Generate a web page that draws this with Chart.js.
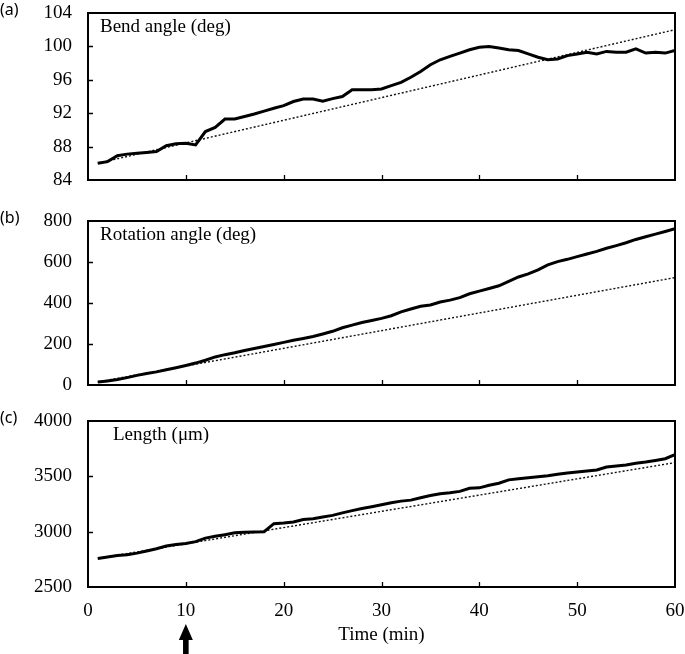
<!DOCTYPE html>
<html>
<head>
<meta charset="utf-8">
<script src="https://cdn.jsdelivr.net/npm/chart.js@4.4.1/dist/chart.umd.min.js"></script>
<style>
  html, body { margin: 0; padding: 0; background: #fff; }
  #wrap { position: relative; width: 685px; height: 654px; }
  canvas { position: absolute; left: 0; }
</style>
</head>
<body>
<div id="wrap">
  <canvas id="bend" width="685" height="200" style="top:0"></canvas>
  <canvas id="rotation" width="685" height="200" style="top:200px"></canvas>
  <canvas id="length" width="685" height="254" style="top:400px"></canvas>
</div>
<script>
// time in minutes, one reading per minute
const minutes = [1,2,3,4,5,6,7,8,9,10,11,12,13,14,15,16,17,18,19,20,
  21,22,23,24,25,26,27,28,29,30,31,32,33,34,35,36,37,38,39,40,
  41,42,43,44,45,46,47,48,49,50,51,52,53,54,55,56,57,58,59,60];

const bendAngle = [86.0,86.2,86.9,87.1,87.2,87.3,87.4,88.1,88.35,88.4,
  88.2,89.8,90.3,91.3,91.3,91.6,91.9,92.25,92.6,92.9,
  93.4,93.7,93.7,93.45,93.75,94.0,94.8,94.8,94.8,94.9,
  95.3,95.7,96.3,97.0,97.8,98.4,98.8,99.2,99.6,99.9,
  100.0,99.8,99.6,99.5,99.1,98.7,98.4,98.5,98.9,99.1,
  99.3,99.1,99.4,99.3,99.3,99.7,99.2,99.3,99.2,99.5];

const rotationAngle = [15,20,27,36,47,56,64,74,84,95,
  107,121,137,148,157,168,178,188,198,208,
  218,227,237,249,262,279,292,305,315,325,
  338,357,371,384,390,405,414,426,445,458,
  471,484,505,527,542,562,586,602,613,626,
  639,652,667,680,694,710,723,736,749,763];

const lengthUm = [2758,2771,2785,2792,2806,2825,2846,2870,2884,2894,
  2910,2942,2958,2973,2990,2994,2998,3000,3072,3078,
  3088,3110,3117,3132,3147,3170,3190,3209,3226,3244,
  3262,3276,3285,3307,3327,3343,3352,3364,3392,3396,
  3420,3438,3468,3479,3488,3497,3506,3518,3530,3539,
  3548,3557,3584,3593,3602,3619,3629,3644,3659,3696];

// dotted trend lines: [start minute, end minute] and their values
const trendMinutes = [1, 60];
const bendTrend = [86.0, 102.0];
const rotationTrend = [15, 524];
const lengthTrend = [2758, 3624];

const xTicks = [0, 10, 20, 30, 40, 50, 60];
const arrowMinute = 10;

const SERIF = '"Liberation Serif", "Times New Roman", serif';

function toPoints(xs, ys) {
  return xs.map((x, i) => ({ x, y: ys[i] }));
}

function noPadding(s) {
  s.paddingTop = 0;
  s.paddingBottom = 0;
  s.paddingLeft = 0;
  s.paddingRight = 0;
}

const framePlugin = {
  id: 'frame',
  afterDraw(chart, args, opts) {
    const { ctx, chartArea: a, scales } = chart;
    ctx.save();
    ctx.strokeStyle = '#000';
    ctx.lineWidth = 2;
    ctx.strokeRect(a.left, a.top, a.right - a.left, a.bottom - a.top);

    // inward tick marks
    ctx.lineWidth = 1.3;
    ctx.beginPath();
    scales.y.ticks.forEach(t => {
      if (t.value <= scales.y.min || t.value >= scales.y.max) return;
      const py = Math.round(scales.y.getPixelForValue(t.value)) + 0.5;
      ctx.moveTo(a.left, py);
      ctx.lineTo(a.left + 5, py);
    });
    scales.x.ticks.forEach(t => {
      if (t.value <= scales.x.min || t.value >= scales.x.max) return;
      const px = Math.round(scales.x.getPixelForValue(t.value)) + 0.5;
      ctx.moveTo(px, a.bottom);
      ctx.lineTo(px, a.bottom - 5);
    });
    ctx.stroke();

    // panel letter
    ctx.fillStyle = '#000';
    ctx.textBaseline = 'alphabetic';
    ctx.textAlign = 'left';
    ctx.font = '16px "Noto Sans", sans-serif';
    ctx.fillText(opts.letter, 0, a.top + 2);

    // label inside the plot
    ctx.font = '19px ' + SERIF;
    ctx.fillText(opts.label, opts.labelX, a.top + 18.5);

    // arrow under the time axis
    if (opts.arrow != null) {
      const ax = scales.x.getPixelForValue(opts.arrow);
      const top = 224, headBottom = 240, bottom = 254;
      ctx.beginPath();
      ctx.moveTo(ax, top);
      ctx.lineTo(ax + 7, headBottom);
      ctx.lineTo(ax + 2.8, headBottom);
      ctx.lineTo(ax + 2.8, bottom);
      ctx.lineTo(ax - 2.8, bottom);
      ctx.lineTo(ax - 2.8, headBottom);
      ctx.lineTo(ax - 7, headBottom);
      ctx.closePath();
      ctx.fill();
    }
    ctx.restore();
  }
};

function createPanel(canvasId, cfg) {
  const canvas = document.getElementById(canvasId);
  return new Chart(canvas, {
    type: 'line',
    data: {
      datasets: [{
        data: toPoints(minutes, cfg.values),
        borderColor: '#000',
        borderWidth: 3,
        pointRadius: 0,
        tension: 0,
        fill: false
      }, {
        data: toPoints(trendMinutes, cfg.trend),
        borderColor: '#111',
        borderWidth: 1.4,
        borderDash: [2, 2],
        pointRadius: 0,
        fill: false
      }]
    },
    options: {
      responsive: false,
      animation: false,
      devicePixelRatio: 1,
      layout: {
        autoPadding: false,
        padding: { top: cfg.areaTop, right: 10, left: 0, bottom: 0 }
      },
      plugins: {
        legend: { display: false },
        tooltip: { enabled: false },
        frame: { letter: cfg.letter, label: cfg.label, labelX: cfg.labelX, arrow: cfg.arrow }
      },
      scales: {
        x: {
          type: 'linear',
          min: 0,
          max: 60,
          afterBuildTicks: s => { s.ticks = xTicks.map(v => ({ value: v })); },
          ticks: { display: cfg.showTime, color: '#000', padding: 13, font: { family: SERIF, size: 19 } },
          grid: { display: false, drawTicks: false },
          border: { display: false },
          title: {
            display: cfg.showTime,
            text: 'Time (min)',
            color: '#000',
            font: { family: SERIF, size: 19 },
            padding: { top: 0, bottom: 8 }
          },
          afterFit: s => { s.height = cfg.xHeight; noPadding(s); }
        },
        y: {
          min: cfg.min,
          max: cfg.max,
          ticks: {
            stepSize: cfg.step,
            color: '#000',
            padding: 16,
            font: { family: SERIF, size: 19 },
            callback: v => String(v)
          },
          grid: { display: false, drawTicks: false },
          border: { display: false },
          afterFit: s => { s.width = 88; noPadding(s); }
        }
      }
    },
    plugins: [framePlugin]
  });
}

createPanel('bend', {
  values: bendAngle, trend: bendTrend, min: 84, max: 104, step: 4,
  letter: '(a)', label: 'Bend angle (deg)', labelX: 100,
  areaTop: 13, xHeight: 20, showTime: false
});

createPanel('rotation', {
  values: rotationAngle, trend: rotationTrend, min: 0, max: 800, step: 200,
  letter: '(b)', label: 'Rotation angle (deg)', labelX: 100,
  areaTop: 21, xHeight: 15, showTime: false
});

createPanel('length', {
  values: lengthUm, trend: lengthTrend, min: 2500, max: 4000, step: 500,
  letter: '(c)', label: 'Length (μm)', labelX: 113,
  areaTop: 21, xHeight: 67, showTime: true, arrow: arrowMinute
});
</script>
</body>
</html>
